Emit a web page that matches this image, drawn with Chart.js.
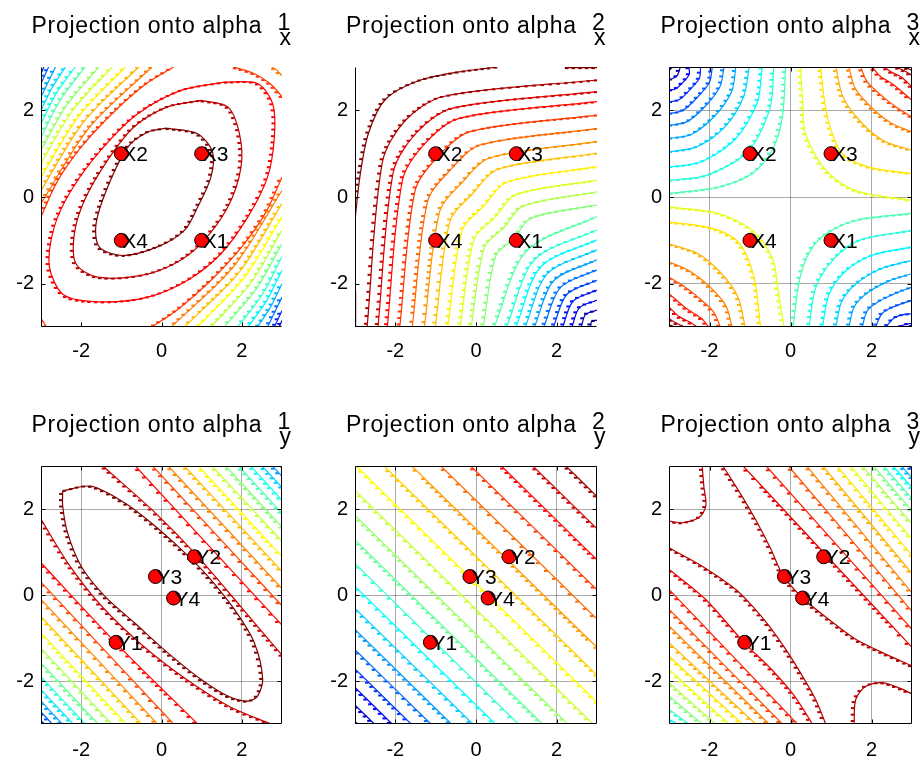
<!DOCTYPE html>
<html>
<head>
<meta charset="utf-8">
<script src="https://cdn.jsdelivr.net/npm/chart.js@4"></script>
<style>
  body { margin: 0; background: #fff; width: 920px; height: 763px; position: relative; overflow: hidden; }
  canvas { position: absolute; }
</style>
</head>
<body>
<canvas id="p1" width="300" height="360" style="left:0;top:0"></canvas>
<canvas id="p2" width="300" height="360" style="left:310px;top:0"></canvas>
<canvas id="p3" width="300" height="360" style="left:620px;top:0"></canvas>
<canvas id="p4" width="300" height="373" style="left:0;top:390px"></canvas>
<canvas id="p5" width="300" height="373" style="left:310px;top:390px"></canvas>
<canvas id="p6" width="300" height="373" style="left:620px;top:390px"></canvas>
<script>
// tick labels used on both axes of every panel
const axisTicks = [-2, 0, 2];

// the four X samples and the four Y samples
const xPtX = [1, -1, 1, -1];
const xPtY = [-1, 1, 1, -1];
const xPtNames = ['X1', 'X2', 'X3', 'X4'];
const yPtX = [-1.13, 0.82, -0.15, 0.30];
const yPtY = [-1.10, 0.89, 0.43, -0.07];
const yPtNames = ['Y1', 'Y2', 'Y3', 'Y4'];

// titles: superscript (component) and subscript (view)
const titleSup = ['1', '2', '3', '1', '2', '3'];
const titleSub = ['x', 'x', 'x', 'y', 'y', 'y'];

// contour lines: [level, x0, y0, x1, y1, ...]
const contoursX1 = [
  [1.00, 0.11,1.59, 0.90,1.46, 1.27,1.04, 1.23,0.46, 0.90,-0.23, 0.57,-0.77, -0.10,-1.15, -0.97,-1.35, -1.55,-1.15, -1.63,-0.62, -1.34,0.23, -0.84,1.15, -0.34,1.50, 0.11,1.59],
  [0.94, 0.98,2.23, 1.65,2.08, 1.94,1.46, 1.98,0.69, 1.65,-0.23, 0.98,-1.08, 0.32,-1.54, -0.51,-1.81, -1.59,-1.85, -2.13,-1.54, -2.17,-0.85, -1.92,-0.08, -1.34,0.85, -0.68,1.62, 0.15,2.08, 0.98,2.23],
  [0.88, 1.56,2.65, 2.39,2.62, 2.77,2.15, 2.81,1.38, 2.64,0.46, 2.15,-0.46, 1.48,-1.31, 0.65,-1.92, -0.34,-2.31, -1.51,-2.42, -2.42,-2.27, -2.79,-1.62, -2.67,-0.69, -2.25,0.15, -1.51,1.08, -0.59,1.92, 0.49,2.46, 1.56,2.65],
  [0.82, -3,-0.46, -2.6,0.35, -2.0,1.15, -1.2,1.95, -0.4,2.6, 0.3,3],
  [0.82, 1.79,3, 2.3,2.85, 2.7,2.62, 3,2.32],
  [0.82, 3,0.46, 2.6,-0.35, 2.0,-1.15, 1.2,-1.95, 0.4,-2.6, -0.25,-3],
  [0.82, -3,-2.8, -2.86,-3],
  [0.76, 2.75,3, 2.88,2.92, 3,2.8],
  [0.76, -3,-0.15, -1.8,1.6, -0.24,3],
  [0.70, -3,0.15, -1.94,1.73, -0.57,3],
  [0.64, -3,0.46, -2.07,1.85, -0.9,3],
  [0.58, -3,0.77, -2.22,1.99, -1.23,3],
  [0.52, -3,1.08, -2.36,2.12, -1.56,3],
  [0.46, -3,1.38, -2.51,2.25, -1.9,3],
  [0.40, -3,1.69, -2.62,2.39, -2.15,3],
  [0.34, -3,2.0, -2.72,2.53, -2.39,3],
  [0.28, -3,2.31, -2.64,3],
  [0.22, -3,2.62, -2.81,3],
  [0.16, -3,2.85, -2.93,3],
  [0.755, 3,0.15, 1.8,-1.6, 0.24,-3],
  [0.69, 3,-0.15, 1.94,-1.73, 0.57,-3],
  [0.625, 3,-0.46, 2.07,-1.85, 0.9,-3],
  [0.56, 3,-0.77, 2.22,-1.99, 1.23,-3],
  [0.495, 3,-1.08, 2.36,-2.12, 1.56,-3],
  [0.43, 3,-1.38, 2.51,-2.25, 1.9,-3],
  [0.365, 3,-1.69, 2.62,-2.39, 2.15,-3],
  [0.30, 3,-2.0, 2.72,-2.53, 2.39,-3],
  [0.235, 3,-2.31, 2.64,-3],
  [0.17, 3,-2.62, 2.81,-3],
  [0.105, 3,-2.85, 2.93,-3]
];

const contoursX2 = [
  [1.00, -3,-0.54, -2.88,0.46, -2.67,1.46, -2.25,2.25, -1.46,2.67, -0.46,2.88, 0.54,3],
  [1.00, 2.2,2.985, 3,2.985],
  [1.00, -2.985,-2.2, -2.985,-3],
  [0.955, -2.70,-3, -2.32,0.81, -1.76,1.76, -0.81,2.32, 3,2.70],
  [0.91, -2.43,-3, -2.05,0.58, -1.48,1.48, -0.58,2.05, 3,2.43],
  [0.865, -2.20,-3, -1.82,0.40, -1.25,1.25, -0.40,1.82, 3,2.20],
  [0.82, -1.89,-3, -1.51,0.15, -0.94,0.94, -0.15,1.51, 3,1.89],
  [0.775, -1.58,-3, -1.2,-0.1, -0.63,0.63, 0.1,1.2, 3,1.58],
  [0.73, -1.28,-3, -0.90,-0.33, -0.34,0.34, 0.33,0.90, 3,1.28],
  [0.685, -1.01,-3, -0.64,-0.54, -0.08,0.08, 0.54,0.64, 3,1.01],
  [0.64, -0.70,-3, -0.34,-0.76, 0.2,-0.2, 0.76,0.34, 3,0.70],
  [0.595, -0.39,-3, -0.05,-0.98, 0.47,-0.47, 0.98,0.05, 3,0.39],
  [0.55, -0.12,-3, 0.21,-1.16, 0.70,-0.70, 1.16,-0.21, 3,0.12],
  [0.505, 0.18,-3, 0.49,-1.36, 0.95,-0.95, 1.36,-0.49, 3,-0.18],
  [0.46, 0.45,-3, 1.25,-1.25, 3,-0.45],
  [0.415, 0.76,-3, 1.45,-1.45, 3,-0.76],
  [0.37, 0.99,-3, 1.61,-1.61, 3,-0.99],
  [0.325, 1.22,-3, 1.77,-1.77, 3,-1.22],
  [0.28, 1.45,-3, 1.93,-1.93, 3,-1.45],
  [0.235, 1.68,-3, 2.09,-2.09, 3,-1.68],
  [0.19, 1.92,-3, 2.25,-2.25, 3,-1.92],
  [0.145, 2.15,-3, 2.405,-2.405, 3,-2.15],
  [0.10, 2.38,-3, 2.56,-2.56, 3,-2.38],
  [0.055, 2.61,-3, 2.715,-2.715, 3,-2.61],
  [0.01, 2.84,-3, 2.87,-2.87, 3,-2.84]
];

const contoursX3 = [
  [0.60, 0.25,3, 0.3,2.2, 0.37,1.46, 0.87,0.62, 1.61,0.15, 3,-0.08],
  [0.65, 0.74,3, 0.91,1.85, 1.28,1.0, 1.94,0.69, 3,0.54],
  [0.70, 1.12,3, 1.3,2.3, 1.75,1.72, 2.3,1.3, 3,1.08],
  [0.75, 1.44,3, 1.6,2.5, 2.05,2.02, 2.5,1.7, 3,1.5],
  [0.80, 1.73,3, 1.9,2.65, 2.3,2.3, 2.65,2.05, 3,1.85],
  [0.85, 2.02,3, 2.2,2.8, 2.56,2.58, 3,2.23],
  [0.90, 2.31,3, 2.5,2.88, 2.75,2.76, 3,2.54],
  [0.95, 2.6,3, 2.8,2.92, 3,2.81],
  [1.00, 2.82,3, 3,2.92],
  [0.60, -3,-0.23, -1.77,-0.38, -0.94,-0.77, -0.45,-1.4, -0.3,-2.2, -0.16,-3],
  [0.65, -3,-0.58, -1.94,-0.72, -1.28,-1.05, -0.9,-1.85, -0.74,-3],
  [0.70, -3,-1.08, -2.3,-1.3, -1.75,-1.72, -1.3,-2.3, -1.12,-3],
  [0.75, -3,-1.5, -2.5,-1.7, -2.05,-2.02, -1.6,-2.5, -1.44,-3],
  [0.80, -3,-1.85, -2.65,-2.05, -2.3,-2.3, -1.9,-2.65, -1.73,-3],
  [0.85, -3,-2.23, -2.56,-2.58, -2.2,-2.8, -2.02,-3],
  [0.90, -3,-2.54, -2.75,-2.76, -2.5,-2.88, -2.31,-3],
  [0.95, -3,-2.81, -2.8,-2.92, -2.6,-3],
  [1.00, -3,-2.95, -2.85,-3],
  [0.45, -3,0.08, -1.77,0.23, -0.94,0.54, -0.45,1.08, -0.2,1.85, -0.12,3],
  [0.41, -3,0.38, -2.03,0.51, -1.05,1.05, -0.51,2.03, -0.41,3],
  [0.37, -3,0.69, -2.18,0.82, -1.35,1.35, -0.82,2.18, -0.7,3],
  [0.33, -3,1.04, -2.31,1.16, -1.62,1.62, -1.16,2.31, -1.02,3],
  [0.29, -3,1.35, -2.44,1.45, -1.87,1.87, -1.45,2.44, -1.35,3],
  [0.25, -3,1.65, -2.55,1.74, -2.1,2.1, -1.74,2.55, -1.64,3],
  [0.21, -3,1.92, -2.65,2.0, -2.3,2.3, -2.0,2.65, -1.93,3],
  [0.17, -3,2.19, -2.74,2.25, -2.48,2.48, -2.25,2.74, -2.22,3],
  [0.12, -3,2.46, -2.83,2.5, -2.65,2.65, -2.5,2.83, -2.51,3],
  [0.07, -3,2.69, -2.8,2.8, -2.72,3],
  [0.03, -3,2.92, -2.92,3],
  [0.45, 0.06,-3, 0.25,-1.8, 0.55,-1.15, 1.0,-0.78, 1.7,-0.52, 3,-0.38],
  [0.41, 0.46,-3, 0.62,-2.1, 1.05,-1.45, 1.7,-1.0, 3,-0.77],
  [0.37, 0.79,-3, 0.95,-2.25, 1.35,-1.72, 2.0,-1.35, 3,-1.15],
  [0.33, 1.12,-3, 1.27,-2.4, 1.65,-1.98, 2.25,-1.65, 3,-1.46],
  [0.29, 1.44,-3, 1.58,-2.52, 1.92,-2.2, 2.45,-1.93, 3,-1.77],
  [0.25, 1.77,-3, 1.9,-2.62, 2.2,-2.4, 2.65,-2.2, 3,-2.08],
  [0.21, 2.1,-3, 2.25,-2.7, 2.5,-2.55, 3,-2.38],
  [0.17, 2.35,-3, 2.55,-2.8, 2.75,-2.72, 3,-2.69],
  [0.12, 2.68,-3, 2.85,-2.93, 3,-2.92],
  [0.06, 2.93,-3, 3,-2.97]
];

const contoursY1 = [
  [1.00, -2.46,2.42, -1.76,2.53, -0.93,2.15, -0.26,1.68, 0.49,1.06, 1.15,0.44, 1.81,-0.33, 2.31,-1.11, 2.52,-1.96, 2.39,-2.35, 2.15,-2.47, 1.65,-2.35, 0.98,-1.96, 0.15,-1.34, -0.68,-0.64, -1.42,-0.02, -2.0,0.67, -2.34,1.45, -2.46,2.07, -2.46,2.42],
  [0.93, -1.46,3, -0.2,1.95, 0.85,0.95, 2.0,-0.3, 3,-1.4],
  [0.93, -3,1.76, -2.3,0.7, -1.5,-0.25, -0.5,-1.15, 0.6,-1.95, 1.7,-2.6, 2.73,-3],
  [0.87, -0.65,3, 3,-0.7],
  [0.81, -0.22,3, 3,-0.25],
  [0.75, 0.17,3, 3,0.15],
  [0.69, 0.57,3, 3,0.55],
  [0.63, 0.92,3, 3,0.9],
  [0.57, 1.26,3, 3,1.25],
  [0.51, 1.6,3, 3,1.58],
  [0.45, 1.92,3, 3,1.9],
  [0.39, 2.22,3, 3,2.2],
  [0.33, 2.5,3, 3,2.5],
  [0.27, 2.76,3, 3,2.76],
  [0.21, 2.95,3, 3,2.95],
  [0.87, -3,0.75, -1.15,-1.1, 0.9,-3],
  [0.805, -3,0.3, 0.3,-3],
  [0.74, -3,-0.1, -0.1,-3],
  [0.675, -3,-0.5, -0.5,-3],
  [0.61, -3,-0.88, -0.88,-3],
  [0.545, -3,-1.24, -1.24,-3],
  [0.48, -3,-1.58, -1.58,-3],
  [0.415, -3,-1.9, -1.9,-3],
  [0.35, -3,-2.2, -2.2,-3],
  [0.285, -3,-2.47, -2.47,-3],
  [0.22, -3,-2.72, -2.72,-3],
  [0.155, -3,-2.92, -2.92,-3]
];

const contoursY2 = [
  [0.970, 2.23,3, 3,2.29],
  [0.920, 1.41,3, 3,1.54],
  [0.871, 0.63,3, 3,0.82],
  [0.821, -0.13,3, 3,0.12],
  [0.772, -0.87,3, 3,-0.56],
  [0.722, -1.59,3, 3,-1.22],
  [0.673, -2.28,3, 3,-1.86],
  [0.623, -2.97,3, 3,-2.49],
  [0.574, -3,2.43, 2.9,-3],
  [0.524, -3,1.85, 2.27,-3],
  [0.475, -3,1.28, 1.65,-3],
  [0.425, -3,0.73, 1.05,-3],
  [0.376, -3,0.2, 0.48,-3],
  [0.326, -3,-0.31, -0.08,-3],
  [0.277, -3,-0.8, -0.61,-3],
  [0.227, -3,-1.27, -1.12,-3],
  [0.178, -3,-1.72, -1.61,-3],
  [0.128, -3,-2.15, -2.08,-3],
  [0.079, -3,-2.56, -2.52,-3],
  [0.030, -3,-2.94, -2.93,-3]
];

const contoursY3 = [
  [0.95, -2.18,3, -2.14,2.53, -2.09,2.07, -2.26,1.8, -2.67,1.68, -3,1.72],
  [0.95, 1.57,-3, 1.61,-2.43, 1.86,-2.12, 2.27,-2.04, 2.76,-2.19, 3,-2.3],
  [0.95, -3,1.1, -2.18,0.67, -1.35,0.13, -0.94,-0.26, -0.53,-0.72, -0.12,-1.26, 0.29,-1.88, 0.62,-2.43, 0.87,-3],
  [0.95, -1.67,3, -1.2,2.3, -0.86,1.75, -0.5,1.1, -0.18,0.45, 0.3,-0.07, 0.95,-0.57, 1.61,-1.03, 2.27,-1.34, 3,-1.65],
  [0.90, -3,0.6, -2.1,-0.1, -1.15,-1.1, -0.45,-1.75, 0.1,-2.35, 0.54,-3],
  [0.85, -3,0.13, 0.17,-3],
  [0.80, -3,-0.33, -0.2,-3],
  [0.75, -3,-0.72, -0.53,-3],
  [0.70, -3,-1.11, -0.86,-3],
  [0.65, -3,-1.42, -1.19,-3],
  [0.60, -3,-1.73, -1.52,-3],
  [0.55, -3,-2.04, -1.85,-3],
  [0.50, -3,-2.35, -2.18,-3],
  [0.43, -3,-2.66, -2.51,-3],
  [0.36, -3,-2.89, -2.79,-3],
  [0.90, -1.17,3, 3,-1.22],
  [0.85, -0.6,3, 3,-0.8],
  [0.80, -0.05,3, 3,-0.38],
  [0.75, 0.4,3, 3,0.05],
  [0.70, 0.8,3, 3,0.5],
  [0.65, 1.15,3, 3,0.92],
  [0.60, 1.48,3, 3,1.3],
  [0.55, 1.78,3, 3,1.65],
  [0.50, 2.05,3, 3,1.96],
  [0.45, 2.3,3, 3,2.24],
  [0.38, 2.53,3, 3,2.5],
  [0.30, 2.74,3, 3,2.73],
  [0.20, 2.92,3, 3,2.92]
];

// MATLAB "jet" colormap
function jet(t) {
  const f = v => Math.round(255 * Math.max(0, Math.min(1, v)));
  return 'rgb(' + f(1.5 - Math.abs(4 * t - 3)) + ',' + f(1.5 - Math.abs(4 * t - 2)) + ',' + f(1.5 - Math.abs(4 * t - 1)) + ')';
}

const FONT = "'Liberation Sans', Arial, Helvetica, sans-serif";

// small dashes along the contour paths, like the old renderer's output
function drawDashes(chart, colors) {
  const ctx = chart.ctx, a = chart.chartArea;
  ctx.save();
  ctx.beginPath();
  ctx.rect(a.left, a.top, a.right - a.left, a.bottom - a.top);
  ctx.clip();
  for (let di = 1; di < chart.data.datasets.length; di++) {
    const pts = chart.getDatasetMeta(di).data;
    ctx.fillStyle = colors[di - 1];
    let acc = 3;
    for (let j = 0; j < pts.length - 1; j++) {
      const p0 = pts[j], p1 = pts[j + 1];
      const c1x = Number.isFinite(p0.cp2x) ? p0.cp2x : p0.x, c1y = Number.isFinite(p0.cp2y) ? p0.cp2y : p0.y;
      const c2x = Number.isFinite(p1.cp1x) ? p1.cp1x : p1.x, c2y = Number.isFinite(p1.cp1y) ? p1.cp1y : p1.y;
      let px = p0.x, py = p0.y;
      for (let k = 1; k <= 40; k++) {
        const t = k / 40, u = 1 - t;
        const x = u * u * u * p0.x + 3 * u * u * t * c1x + 3 * u * t * t * c2x + t * t * t * p1.x;
        const y = u * u * u * p0.y + 3 * u * u * t * c1y + 3 * u * t * t * c2y + t * t * t * p1.y;
        acc += Math.hypot(x - px, y - py);
        if (acc >= 6) { ctx.fillRect(x - 3.5, y - 0.5, 3.5, 2); acc = 0; }
        px = x; py = y;
      }
    }
  }
  ctx.restore();
}

function makePanel(id, idx, contours, ptX, ptY, names, boxed, yAxisW, padR, padT, xAxisH, xPad) {
  const colors = contours.map(c => jet(c[0]));
  const datasets = [{
    data: ptX.map((x, i) => ({ x: x, y: ptY[i] })),
    showLine: false,
    pointRadius: 7,
    pointHoverRadius: 7,
    pointBackgroundColor: '#ff0000',
    pointBorderColor: '#000000',
    pointBorderWidth: 1,
    clip: false
  }];
  contours.forEach((c, ci) => {
    const pts = [];
    for (let i = 1; i < c.length; i += 2) pts.push({ x: c[i], y: c[i + 1] });
    datasets.push({
      data: pts,
      showLine: true,
      borderColor: colors[ci],
      backgroundColor: colors[ci],
      borderWidth: 1.2,
      pointRadius: 0,
      pointBorderWidth: 0,
      tension: 0.3,
      fill: false
    });
  });

  const frame = {
    id: 'frame',
    beforeDatasetDraw(chart, args) {
      // dashes go under the markers (dataset 0 is drawn last)
      if (args.index === 0) drawDashes(chart, colors);
    },
    afterDatasetsDraw(chart) {
      const ctx = chart.ctx;
      const xs = chart.scales.x, ys = chart.scales.y;
      ctx.save();
      ctx.fillStyle = '#000';
      ctx.font = '21px ' + FONT;
      ctx.textAlign = 'left';
      ctx.textBaseline = 'alphabetic';
      names.forEach((n, i) => {
        ctx.fillText(n, xs.getPixelForValue(ptX[i]) + 1, ys.getPixelForValue(ptY[i]) + 7.5);
      });
      ctx.restore();
    },
    afterDraw(chart) {
      const ctx = chart.ctx, a = chart.chartArea;
      const xs = chart.scales.x, ys = chart.scales.y;
      ctx.save();
      ctx.strokeStyle = '#000';
      ctx.lineWidth = 1;
      ctx.beginPath();
      const L = Math.round(a.left) + 0.5, R = Math.round(a.right) - 0.5;
      const T = Math.round(a.top) + 0.5, B = Math.round(a.bottom) - 0.5;
      ctx.moveTo(L, T); ctx.lineTo(L, B); ctx.lineTo(R, B);
      if (boxed) { ctx.lineTo(R, T); ctx.lineTo(L, T); }
      axisTicks.forEach(v => {
        const px = Math.round(xs.getPixelForValue(v)) + 0.5;
        const py = Math.round(ys.getPixelForValue(v)) + 0.5;
        ctx.moveTo(px, B); ctx.lineTo(px, B - 4);
        ctx.moveTo(L, py); ctx.lineTo(L + 4, py);
        if (boxed) {
          ctx.moveTo(px, T); ctx.lineTo(px, T + 4);
          ctx.moveTo(R, py); ctx.lineTo(R - 4, py);
        }
      });
      ctx.stroke();
      // title with stacked superscript / subscript
      const cx = (a.left + a.right) / 2;
      const base = a.top - 34;
      ctx.fillStyle = '#000';
      ctx.font = '23px ' + FONT;
      ctx.textBaseline = 'alphabetic';
      ctx.textAlign = 'left';
      if ('letterSpacing' in ctx) ctx.letterSpacing = '0.7px';
      ctx.fillText('Projection onto alpha', cx - 130, base);
      if ('letterSpacing' in ctx) ctx.letterSpacing = '0px';
      ctx.fillText(titleSup[idx], cx + 116, base - 3);
      ctx.fillText(titleSub[idx], cx + 118, base + 12);
      ctx.restore();
    }
  };

  const axis = (isX) => ({
    type: 'linear',
    min: -3,
    max: 3,
    afterBuildTicks: s => { s.ticks = axisTicks.map(v => ({ value: v })); },
    afterFit: s => { if (isX) s.height = xAxisH; else s.width = yAxisW; },
    grid: { display: boxed, color: 'rgba(0,0,0,0.33)', lineWidth: 1, drawTicks: false },
    border: { display: false },
    ticks: {
      color: '#000',
      font: { family: FONT, size: 20 },
      padding: isX ? xPad : 7,
      maxRotation: 0,
      callback: v => String(v)
    }
  });

  new Chart(document.getElementById(id), {
    type: 'scatter',
    data: { datasets: datasets },
    options: {
      responsive: false,
      animation: false,
      events: [],
      layout: { padding: { left: 0, top: padT, right: padR, bottom: 0 } },
      elements: { line: { capBezierPoints: false } },
      plugins: { legend: { display: false }, tooltip: { enabled: false } },
      scales: { x: axis(true), y: axis(false) }
    },
    plugins: [frame]
  });
}

makePanel('p1', 0, contoursX1, xPtX, xPtY, xPtNames, false, 41, 18, 67, 33, 12);
makePanel('p2', 1, contoursX2, xPtX, xPtY, xPtNames, false, 45, 13, 67, 33, 12);
makePanel('p3', 2, contoursX3, xPtX, xPtY, xPtNames, true, 49, 8, 67, 33, 12);
makePanel('p4', 3, contoursY1, yPtX, yPtY, yPtNames, true, 41, 18, 76, 39, 14);
makePanel('p5', 4, contoursY2, yPtX, yPtY, yPtNames, true, 45, 13, 76, 39, 14);
makePanel('p6', 5, contoursY3, yPtX, yPtY, yPtNames, true, 49, 8, 76, 39, 14);
</script>
</body>
</html>
